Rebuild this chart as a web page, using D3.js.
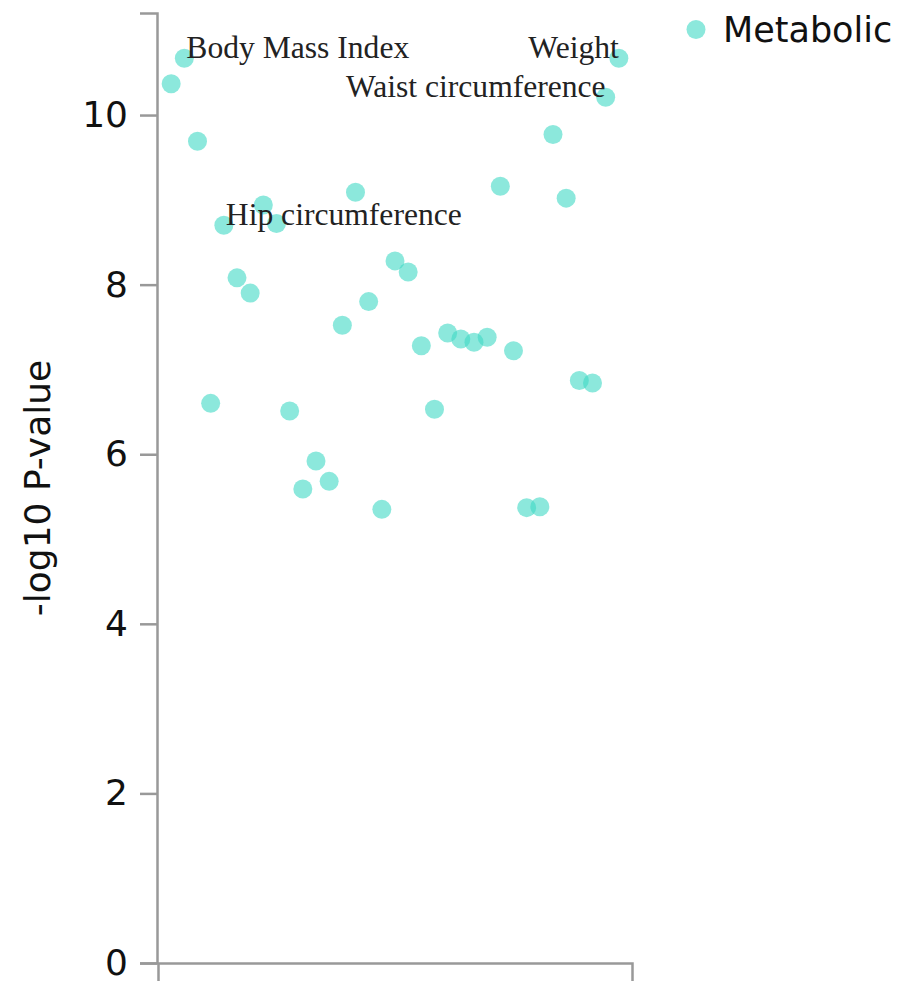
<!DOCTYPE html>
<html>
<head>
<meta charset="utf-8">
<script src="https://cdn.jsdelivr.net/npm/d3@7"></script>
<style>
    body { margin: 0; background: #fff; }
</style>
</head>
<body>
<div id="chart-phewas"></div>
<script>
'use strict';

// -log10 p-values, one per trait, in plotting order
const pValues = [
    10.37, 10.67, 9.69, 6.60, 8.70, 8.08, 7.90, 8.94, 8.72, 6.51,
    5.59, 5.92, 5.68, 7.52, 9.09, 7.80, 5.35, 8.28, 8.15, 7.28,
    6.53, 7.43, 7.36, 7.32, 7.38, 9.16, 7.22, 5.37, 5.38, 9.77,
    9.02, 6.87, 6.84, 10.21, 10.67
];
// annotated traits (position in pValues) and their names
const labelIndex = [1, 4, 33, 34];
const labelText = ["Body Mass Index", "Hip circumference", "Waist circumference", "Weight"];
const categories = ["Metabolic"];
const yTicks = [0, 2, 4, 6, 8, 10];

const width = 902, height = 983;
const margin = {top: 13, right: 270, bottom: 20, left: 157};

const svg = d3.select("#chart-phewas").append("svg")
    .attr("width", width)
    .attr("height", height);

const x = d3.scaleLinear()
    .domain([0, pValues.length + 1])
    .range([margin.left + 1, width - margin.right]);

const y = d3.scaleLinear()
    .domain([0, d3.max(pValues) * 1.05])
    .range([height - margin.bottom, margin.top]);

const color = d3.scaleOrdinal().domain(categories).range(["#40d9c4"]);

// axes
const yAxis = svg.append("g")
    .attr("transform", `translate(${margin.left},0)`)
    .call(d3.axisLeft(y).tickValues(yTicks).tickSize(17).tickPadding(12));

const xAxis = svg.append("g")
    .attr("transform", `translate(0,${height - margin.bottom})`)
    .call(d3.axisBottom(x).tickValues([]).tickSizeOuter(18));

svg.selectAll(".domain, .tick line")
    .attr("stroke", "#999")
    .attr("stroke-width", 2.5);

yAxis.selectAll("text")
    .attr("font-family", "DejaVu Sans, sans-serif")
    .attr("font-size", 36)
    .attr("fill", "#111");

svg.append("text")
    .attr("transform", `translate(50,${(margin.top + height - margin.bottom) / 2}) rotate(-90)`)
    .attr("text-anchor", "middle")
    .attr("font-family", "DejaVu Sans, sans-serif")
    .attr("font-size", 36)
    .attr("fill", "#111")
    .text("-log10 P-value");

// points
svg.append("g")
    .selectAll("circle")
    .data(pValues)
    .join("circle")
    .attr("cx", (d, i) => x(i + 1))
    .attr("cy", d => y(d))
    .attr("r", 9.5)
    .attr("fill", color(categories[0]))
    .attr("fill-opacity", 0.6);

// trait labels
const mid = (x.range()[0] + x.range()[1]) / 2;
svg.append("g")
    .selectAll("text")
    .data(labelIndex)
    .join("text")
    .attr("x", i => x(i + 1))
    .attr("y", i => y(pValues[i]))
    .attr("dx", i => x(i + 1) > mid ? 0 : 2)
    .attr("text-anchor", i => x(i + 1) > mid ? "end" : "start")
    .attr("font-family", "Liberation Serif, Times New Roman, serif")
    .attr("font-size", 31.6)
    .attr("fill", "#222")
    .text((i, k) => labelText[k]);

// legend
const legend = svg.append("g")
    .attr("transform", "translate(696,29.5)");
legend.selectAll("circle")
    .data(categories)
    .join("circle")
    .attr("r", 9.5)
    .attr("fill", d => color(d))
    .attr("fill-opacity", 0.6);
legend.selectAll("text")
    .data(categories)
    .join("text")
    .attr("x", 27)
    .attr("dy", "0.35em")
    .attr("font-family", "DejaVu Sans, sans-serif")
    .attr("font-size", 35)
    .attr("fill", "#111")
    .text(d => d);
</script>
</body>
</html>
